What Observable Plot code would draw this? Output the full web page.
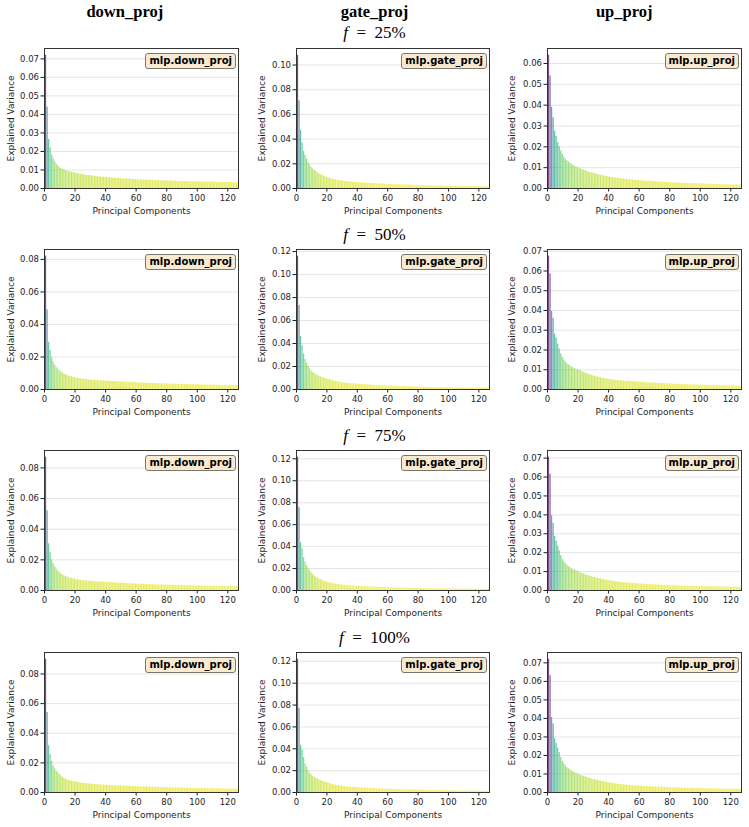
<!DOCTYPE html>
<html>
<head>
<meta charset="utf-8">
<script src="https://cdn.jsdelivr.net/npm/d3@7"></script>
<script src="https://cdn.jsdelivr.net/npm/@observablehq/plot@0.6"></script>
<style>
  body { margin: 0; background: #fff; }
  #fig { position: relative; width: 749px; height: 827px; background: #fff; overflow: hidden; }
  .panel { position: absolute; }
  .panel svg { display: block; }
  .tag {
    position: absolute;
    font: bold 10px "DejaVu Sans", sans-serif;
    line-height: 11px;
    padding: 1px 3px 2px 3px;
    background: rgba(245, 222, 179, 0.6);
    border: 1px solid #7d766b;
    border-radius: 3px;
    color: #000;
    white-space: nowrap;
  }
  #titles { position: absolute; left: 0; top: 0; }
</style>
</head>
<body>
<div id="fig"></div>
<script>
// Explained variance ratio of the first 128 principal components,
// per MLP projection and per fraction f.
const downProj25 = [
0.0720,0.0440,0.0265,0.0220,0.0180,0.0160,0.0145,0.0132,0.0122,0.0114,
0.0108,0.0104,0.0100,0.0097,0.0094,0.0092,0.0090,0.0088,0.0086,0.0084,
0.0082,0.0080,0.0078,0.0077,0.0075,0.0074,0.0072,0.0071,0.0070,0.0069,
0.0068,0.0067,0.0066,0.0065,0.0064,0.0063,0.0062,0.0061,0.0061,0.0060,
0.0059,0.0058,0.0058,0.0057,0.0056,0.0056,0.0055,0.0054,0.0054,0.0053,
0.0053,0.0052,0.0052,0.0051,0.0051,0.0050,0.0050,0.0049,0.0049,0.0048,
0.0048,0.0047,0.0047,0.0046,0.0046,0.0045,0.0045,0.0045,0.0044,0.0044,
0.0044,0.0043,0.0043,0.0043,0.0042,0.0042,0.0042,0.0041,0.0041,0.0041,
0.0040,0.0040,0.0040,0.0039,0.0039,0.0039,0.0039,0.0038,0.0038,0.0038,
0.0038,0.0037,0.0037,0.0037,0.0037,0.0036,0.0036,0.0036,0.0036,0.0036,
0.0035,0.0035,0.0035,0.0035,0.0035,0.0034,0.0034,0.0034,0.0034,0.0034,
0.0034,0.0033,0.0033,0.0033,0.0033,0.0033,0.0033,0.0032,0.0032,0.0032,
0.0032,0.0032,0.0032,0.0031,0.0031,0.0031,0.0031,0.0031];

const gateProj25 = [
0.1080,0.0710,0.0470,0.0370,0.0300,0.0270,0.0240,0.0210,0.0190,0.0170,
0.0158,0.0147,0.0137,0.0128,0.0120,0.0113,0.0107,0.0101,0.0096,0.0091,
0.0086,0.0082,0.0078,0.0075,0.0072,0.0069,0.0066,0.0064,0.0062,0.0060,
0.0059,0.0058,0.0056,0.0055,0.0054,0.0053,0.0052,0.0051,0.0050,0.0049,
0.0048,0.0047,0.0046,0.0045,0.0044,0.0043,0.0042,0.0042,0.0041,0.0040,
0.0039,0.0039,0.0038,0.0037,0.0037,0.0036,0.0035,0.0035,0.0034,0.0034,
0.0033,0.0033,0.0032,0.0032,0.0031,0.0031,0.0030,0.0030,0.0029,0.0029,
0.0028,0.0028,0.0028,0.0027,0.0027,0.0026,0.0026,0.0026,0.0025,0.0025,
0.0024,0.0024,0.0024,0.0023,0.0023,0.0023,0.0022,0.0022,0.0022,0.0021,
0.0021,0.0021,0.0021,0.0020,0.0020,0.0020,0.0020,0.0019,0.0019,0.0019,
0.0019,0.0018,0.0018,0.0018,0.0018,0.0018,0.0017,0.0017,0.0017,0.0017,
0.0017,0.0016,0.0016,0.0016,0.0016,0.0016,0.0016,0.0015,0.0015,0.0015,
0.0015,0.0015,0.0015,0.0014,0.0014,0.0014,0.0014,0.0013];

const upProj25 = [
0.0640,0.0540,0.0390,0.0340,0.0275,0.0250,0.0220,0.0200,0.0180,0.0163,
0.0150,0.0140,0.0133,0.0127,0.0121,0.0116,0.0111,0.0107,0.0103,0.0100,
0.0097,0.0094,0.0091,0.0088,0.0085,0.0082,0.0079,0.0077,0.0075,0.0073,
0.0071,0.0069,0.0067,0.0065,0.0063,0.0062,0.0060,0.0059,0.0057,0.0056,
0.0054,0.0053,0.0052,0.0051,0.0050,0.0049,0.0048,0.0047,0.0046,0.0045,
0.0044,0.0043,0.0043,0.0042,0.0041,0.0041,0.0040,0.0039,0.0039,0.0038,
0.0037,0.0037,0.0036,0.0036,0.0035,0.0035,0.0034,0.0034,0.0033,0.0033,
0.0032,0.0032,0.0031,0.0031,0.0030,0.0030,0.0030,0.0029,0.0029,0.0028,
0.0028,0.0027,0.0027,0.0027,0.0026,0.0026,0.0026,0.0025,0.0025,0.0025,
0.0024,0.0024,0.0024,0.0024,0.0023,0.0023,0.0023,0.0023,0.0022,0.0022,
0.0022,0.0022,0.0021,0.0021,0.0021,0.0021,0.0020,0.0020,0.0020,0.0020,
0.0019,0.0019,0.0019,0.0019,0.0018,0.0018,0.0018,0.0018,0.0018,0.0017,
0.0017,0.0017,0.0017,0.0017,0.0016,0.0016,0.0016,0.0016];

const downProj50 = [
0.0820,0.0490,0.0290,0.0240,0.0195,0.0170,0.0150,0.0135,0.0125,0.0116,
0.0108,0.0102,0.0096,0.0091,0.0087,0.0083,0.0080,0.0077,0.0074,0.0072,
0.0069,0.0068,0.0066,0.0065,0.0064,0.0063,0.0062,0.0061,0.0060,0.0059,
0.0058,0.0057,0.0056,0.0056,0.0055,0.0054,0.0054,0.0053,0.0053,0.0052,
0.0052,0.0051,0.0050,0.0050,0.0049,0.0049,0.0048,0.0048,0.0047,0.0047,
0.0046,0.0045,0.0045,0.0044,0.0044,0.0043,0.0043,0.0042,0.0042,0.0041,
0.0041,0.0041,0.0040,0.0040,0.0039,0.0039,0.0039,0.0038,0.0038,0.0037,
0.0037,0.0037,0.0036,0.0036,0.0036,0.0035,0.0035,0.0035,0.0035,0.0034,
0.0034,0.0034,0.0033,0.0033,0.0033,0.0032,0.0032,0.0032,0.0032,0.0031,
0.0031,0.0031,0.0031,0.0030,0.0030,0.0030,0.0030,0.0029,0.0029,0.0029,
0.0029,0.0028,0.0028,0.0028,0.0028,0.0027,0.0027,0.0027,0.0027,0.0027,
0.0026,0.0026,0.0026,0.0026,0.0026,0.0025,0.0025,0.0025,0.0025,0.0025,
0.0025,0.0024,0.0024,0.0024,0.0024,0.0024,0.0023,0.0023];

const gateProj50 = [
0.1160,0.0730,0.0460,0.0380,0.0310,0.0260,0.0230,0.0200,0.0180,0.0160,
0.0148,0.0138,0.0130,0.0123,0.0116,0.0110,0.0105,0.0100,0.0096,0.0092,
0.0088,0.0084,0.0080,0.0076,0.0073,0.0070,0.0067,0.0064,0.0062,0.0060,
0.0058,0.0056,0.0055,0.0053,0.0052,0.0051,0.0050,0.0049,0.0048,0.0047,
0.0046,0.0045,0.0044,0.0043,0.0042,0.0041,0.0040,0.0039,0.0038,0.0037,
0.0036,0.0035,0.0035,0.0034,0.0033,0.0033,0.0032,0.0031,0.0031,0.0030,
0.0030,0.0029,0.0028,0.0028,0.0027,0.0027,0.0026,0.0026,0.0025,0.0025,
0.0024,0.0024,0.0023,0.0023,0.0023,0.0022,0.0022,0.0021,0.0021,0.0021,
0.0020,0.0020,0.0020,0.0019,0.0019,0.0019,0.0018,0.0018,0.0018,0.0018,
0.0017,0.0017,0.0017,0.0017,0.0016,0.0016,0.0016,0.0016,0.0016,0.0015,
0.0015,0.0015,0.0015,0.0015,0.0014,0.0014,0.0014,0.0014,0.0014,0.0014,
0.0013,0.0013,0.0013,0.0013,0.0013,0.0013,0.0013,0.0012,0.0012,0.0012,
0.0012,0.0012,0.0012,0.0012,0.0011,0.0011,0.0011,0.0011];

const upProj50 = [
0.0675,0.0585,0.0395,0.0360,0.0280,0.0260,0.0230,0.0205,0.0180,0.0163,
0.0150,0.0140,0.0132,0.0125,0.0119,0.0114,0.0110,0.0106,0.0102,0.0099,
0.0096,0.0093,0.0089,0.0086,0.0083,0.0080,0.0077,0.0074,0.0072,0.0069,
0.0067,0.0065,0.0063,0.0061,0.0059,0.0057,0.0056,0.0054,0.0053,0.0051,
0.0050,0.0049,0.0048,0.0047,0.0046,0.0045,0.0044,0.0044,0.0043,0.0042,
0.0042,0.0041,0.0041,0.0040,0.0040,0.0039,0.0039,0.0038,0.0038,0.0037,
0.0037,0.0036,0.0036,0.0035,0.0035,0.0034,0.0034,0.0033,0.0033,0.0032,
0.0032,0.0031,0.0031,0.0030,0.0030,0.0030,0.0029,0.0029,0.0028,0.0028,
0.0028,0.0027,0.0027,0.0027,0.0026,0.0026,0.0026,0.0025,0.0025,0.0025,
0.0024,0.0024,0.0024,0.0023,0.0023,0.0023,0.0023,0.0022,0.0022,0.0022,
0.0022,0.0021,0.0021,0.0021,0.0021,0.0021,0.0020,0.0020,0.0020,0.0020,
0.0020,0.0019,0.0019,0.0019,0.0019,0.0019,0.0019,0.0018,0.0018,0.0018,
0.0018,0.0018,0.0018,0.0017,0.0017,0.0017,0.0017,0.0017];

const downProj75 = [
0.0870,0.0520,0.0305,0.0250,0.0200,0.0175,0.0155,0.0140,0.0128,0.0118,
0.0110,0.0103,0.0097,0.0092,0.0088,0.0084,0.0081,0.0078,0.0076,0.0073,
0.0071,0.0069,0.0068,0.0066,0.0065,0.0064,0.0063,0.0062,0.0061,0.0060,
0.0059,0.0058,0.0058,0.0057,0.0056,0.0056,0.0055,0.0055,0.0054,0.0054,
0.0053,0.0052,0.0052,0.0051,0.0051,0.0050,0.0049,0.0049,0.0048,0.0048,
0.0047,0.0046,0.0046,0.0045,0.0045,0.0044,0.0044,0.0043,0.0043,0.0042,
0.0042,0.0041,0.0041,0.0040,0.0040,0.0040,0.0039,0.0039,0.0038,0.0038,
0.0038,0.0037,0.0037,0.0037,0.0036,0.0036,0.0036,0.0035,0.0035,0.0035,
0.0035,0.0034,0.0034,0.0034,0.0033,0.0033,0.0033,0.0033,0.0032,0.0032,
0.0032,0.0032,0.0031,0.0031,0.0031,0.0031,0.0030,0.0030,0.0030,0.0030,
0.0030,0.0029,0.0029,0.0029,0.0029,0.0029,0.0028,0.0028,0.0028,0.0028,
0.0028,0.0027,0.0027,0.0027,0.0027,0.0027,0.0027,0.0026,0.0026,0.0026,
0.0026,0.0026,0.0026,0.0025,0.0025,0.0025,0.0025,0.0025];

const gateProj75 = [
0.1215,0.0755,0.0435,0.0380,0.0300,0.0260,0.0225,0.0200,0.0178,0.0160,
0.0145,0.0133,0.0123,0.0114,0.0106,0.0099,0.0093,0.0087,0.0082,0.0077,
0.0073,0.0069,0.0066,0.0063,0.0060,0.0058,0.0056,0.0054,0.0052,0.0050,
0.0048,0.0047,0.0046,0.0044,0.0043,0.0042,0.0041,0.0040,0.0039,0.0039,
0.0038,0.0037,0.0036,0.0036,0.0035,0.0034,0.0034,0.0033,0.0032,0.0032,
0.0031,0.0031,0.0030,0.0030,0.0029,0.0029,0.0028,0.0028,0.0027,0.0027,
0.0026,0.0026,0.0025,0.0025,0.0024,0.0024,0.0023,0.0023,0.0023,0.0022,
0.0022,0.0021,0.0021,0.0021,0.0020,0.0020,0.0020,0.0019,0.0019,0.0019,
0.0018,0.0018,0.0018,0.0018,0.0017,0.0017,0.0017,0.0017,0.0016,0.0016,
0.0016,0.0016,0.0016,0.0015,0.0015,0.0015,0.0015,0.0015,0.0015,0.0014,
0.0014,0.0014,0.0014,0.0014,0.0014,0.0013,0.0013,0.0013,0.0013,0.0013,
0.0013,0.0013,0.0012,0.0012,0.0012,0.0012,0.0012,0.0012,0.0012,0.0012,
0.0011,0.0011,0.0011,0.0011,0.0011,0.0011,0.0011,0.0010];

const upProj75 = [
0.0705,0.0615,0.0395,0.0355,0.0285,0.0260,0.0235,0.0210,0.0185,0.0165,
0.0152,0.0142,0.0134,0.0127,0.0121,0.0116,0.0112,0.0108,0.0104,0.0100,
0.0096,0.0093,0.0090,0.0087,0.0084,0.0081,0.0078,0.0076,0.0073,0.0071,
0.0069,0.0067,0.0065,0.0063,0.0061,0.0059,0.0058,0.0056,0.0055,0.0053,
0.0051,0.0050,0.0049,0.0047,0.0046,0.0045,0.0044,0.0043,0.0042,0.0041,
0.0040,0.0040,0.0039,0.0038,0.0038,0.0037,0.0036,0.0036,0.0035,0.0035,
0.0034,0.0034,0.0033,0.0033,0.0032,0.0032,0.0031,0.0031,0.0030,0.0030,
0.0029,0.0029,0.0029,0.0028,0.0028,0.0027,0.0027,0.0027,0.0026,0.0026,
0.0025,0.0025,0.0025,0.0025,0.0024,0.0024,0.0024,0.0023,0.0023,0.0023,
0.0023,0.0022,0.0022,0.0022,0.0022,0.0022,0.0021,0.0021,0.0021,0.0021,
0.0021,0.0020,0.0020,0.0020,0.0020,0.0020,0.0020,0.0019,0.0019,0.0019,
0.0019,0.0019,0.0019,0.0019,0.0018,0.0018,0.0018,0.0018,0.0018,0.0018,
0.0018,0.0017,0.0017,0.0017,0.0017,0.0017,0.0017,0.0017];

const downProj100 = [
0.0900,0.0540,0.0316,0.0255,0.0210,0.0180,0.0160,0.0145,0.0133,0.0122,
0.0112,0.0104,0.0097,0.0091,0.0086,0.0082,0.0079,0.0076,0.0074,0.0072,
0.0070,0.0068,0.0066,0.0064,0.0063,0.0061,0.0060,0.0059,0.0058,0.0057,
0.0056,0.0055,0.0054,0.0053,0.0052,0.0052,0.0051,0.0050,0.0050,0.0049,
0.0048,0.0048,0.0047,0.0047,0.0046,0.0046,0.0045,0.0045,0.0044,0.0044,
0.0043,0.0043,0.0042,0.0042,0.0042,0.0041,0.0041,0.0040,0.0040,0.0040,
0.0039,0.0039,0.0039,0.0038,0.0038,0.0038,0.0037,0.0037,0.0037,0.0036,
0.0036,0.0036,0.0035,0.0035,0.0035,0.0034,0.0034,0.0034,0.0033,0.0033,
0.0032,0.0032,0.0032,0.0032,0.0031,0.0031,0.0031,0.0030,0.0030,0.0030,
0.0030,0.0029,0.0029,0.0029,0.0029,0.0028,0.0028,0.0028,0.0028,0.0027,
0.0027,0.0027,0.0027,0.0027,0.0026,0.0026,0.0026,0.0026,0.0026,0.0025,
0.0025,0.0025,0.0025,0.0025,0.0024,0.0024,0.0024,0.0024,0.0024,0.0023,
0.0023,0.0023,0.0023,0.0023,0.0023,0.0022,0.0022,0.0022];

const gateProj100 = [
0.1220,0.0770,0.0432,0.0390,0.0320,0.0260,0.0230,0.0200,0.0178,0.0160,
0.0148,0.0138,0.0130,0.0123,0.0116,0.0110,0.0104,0.0099,0.0094,0.0090,
0.0086,0.0081,0.0077,0.0073,0.0070,0.0067,0.0064,0.0061,0.0059,0.0057,
0.0055,0.0053,0.0051,0.0050,0.0049,0.0048,0.0047,0.0046,0.0045,0.0044,
0.0043,0.0042,0.0041,0.0040,0.0039,0.0039,0.0038,0.0037,0.0036,0.0036,
0.0035,0.0034,0.0034,0.0033,0.0033,0.0032,0.0032,0.0031,0.0031,0.0030,
0.0030,0.0029,0.0029,0.0028,0.0028,0.0027,0.0027,0.0026,0.0026,0.0025,
0.0025,0.0025,0.0024,0.0024,0.0023,0.0023,0.0023,0.0022,0.0022,0.0022,
0.0021,0.0021,0.0020,0.0020,0.0020,0.0019,0.0019,0.0019,0.0018,0.0018,
0.0018,0.0017,0.0017,0.0017,0.0017,0.0016,0.0016,0.0016,0.0016,0.0015,
0.0015,0.0015,0.0015,0.0015,0.0014,0.0014,0.0014,0.0014,0.0014,0.0013,
0.0013,0.0013,0.0013,0.0013,0.0013,0.0012,0.0012,0.0012,0.0012,0.0012,
0.0012,0.0012,0.0011,0.0011,0.0011,0.0011,0.0011,0.0011];

const upProj100 = [
0.0720,0.0630,0.0405,0.0370,0.0290,0.0265,0.0240,0.0215,0.0190,0.0168,
0.0155,0.0144,0.0135,0.0128,0.0122,0.0117,0.0112,0.0108,0.0104,0.0100,
0.0096,0.0093,0.0090,0.0087,0.0084,0.0081,0.0078,0.0076,0.0073,0.0071,
0.0069,0.0067,0.0065,0.0063,0.0061,0.0059,0.0058,0.0056,0.0055,0.0053,
0.0051,0.0050,0.0049,0.0047,0.0046,0.0045,0.0044,0.0043,0.0042,0.0041,
0.0040,0.0040,0.0039,0.0038,0.0038,0.0037,0.0036,0.0036,0.0035,0.0035,
0.0034,0.0034,0.0033,0.0033,0.0032,0.0032,0.0031,0.0031,0.0030,0.0030,
0.0029,0.0029,0.0029,0.0028,0.0028,0.0027,0.0027,0.0027,0.0026,0.0026,
0.0025,0.0025,0.0025,0.0025,0.0024,0.0024,0.0024,0.0023,0.0023,0.0023,
0.0023,0.0022,0.0022,0.0022,0.0022,0.0022,0.0021,0.0021,0.0021,0.0021,
0.0021,0.0020,0.0020,0.0020,0.0020,0.0020,0.0020,0.0019,0.0019,0.0019,
0.0019,0.0019,0.0019,0.0019,0.0018,0.0018,0.0018,0.0018,0.0018,0.0018,
0.0018,0.0017,0.0017,0.0017,0.0017,0.0017,0.0017,0.0017];

// Column headers, row fractions, legend tags and tick settings
const projections = ["down_proj", "gate_proj", "up_proj"];
const tags = ["mlp.down_proj", "mlp.gate_proj", "mlp.up_proj"];
const fractions = ["25%", "50%", "75%", "100%"];
const xTicks = [0, 20, 40, 60, 80, 100, 120];
// y tick step for each projection, one entry per fraction row
const yStepDown = [0.01, 0.02, 0.02, 0.02];
const yStepGate = [0.02, 0.02, 0.02, 0.02];
const yStepUp = [0.01, 0.01, 0.01, 0.01];

const grid = [
  [downProj25, gateProj25, upProj25],
  [downProj50, gateProj50, upProj50],
  [downProj75, gateProj75, upProj75],
  [downProj100, gateProj100, upProj100]
];
const yStepsByColumn = [yStepDown, yStepGate, yStepUp];

// Layout of the 4 x 3 panel grid
const COL_LEFT = [0, 250, 500];
const COL_W = [250, 250, 249];
const M_LEFT = [44, 46, 47];
const M_RIGHT = [12, 11, 8];
const FRAME_TOP = [48, 249, 450, 652];
const M_TOP = 6, FRAME_H = 140, M_BOTTOM = 34;
const YLABEL_DX = [-33.5, -34, -35];

const fig = document.getElementById("fig");
const fmt2 = d3.format(".2f");

grid.forEach((row, r) => {
  row.forEach((values, c) => {
    // components are numbered from 1
    const data = values.map((v, i) => ({pc: i + 1, v}));
    const vmax = d3.max(values);
    const yTop = vmax * 1.05;
    const step = yStepsByColumn[c][r];
    const yTicks = d3.range(0, Math.floor(yTop / step + 1e-6) + 1).map(k => +(k * step).toFixed(4));

    const chart = Plot.plot({
      width: COL_W[c],
      height: M_TOP + FRAME_H + M_BOTTOM,
      marginLeft: M_LEFT[c],
      marginRight: M_RIGHT[c],
      marginTop: M_TOP,
      marginBottom: M_BOTTOM,
      x: {domain: [0, 127]},
      y: {domain: [0, yTop]},
      color: {type: "linear", scheme: "viridis", reverse: true, domain: [0, vmax]},
      style: {fontFamily: "DejaVu Sans", fontSize: "8.5px", color: "#1e1e1e", background: "#fff", overflow: "visible"},
      marks: [
        Plot.gridY(yTicks, {stroke: "#dedede", strokeOpacity: 1, strokeWidth: 0.8}),
        Plot.rect(data, {
          x1: d => d.pc - 0.4,
          x2: d => d.pc + 0.4,
          y1: 0,
          y2: "v",
          fill: "v",
          fillOpacity: 0.7,
          clip: true
        }),
        Plot.axisY({ticks: yTicks, tickFormat: fmt2, tickSize: 3.5, tickPadding: 2, label: null}),
        Plot.axisX({ticks: xTicks, tickFormat: d3.format("d"), tickSize: 3.5, tickPadding: 3, label: null}),
        Plot.frame({stroke: "#333", strokeWidth: 1}),
        Plot.text(["Principal Components"], {
          frameAnchor: "bottom", dy: 23, lineAnchor: "middle", textAnchor: "middle",
          fontSize: 9, fill: "#1e1e1e"
        }),
        Plot.text(["Explained Variance"], {
          frameAnchor: "left", dx: YLABEL_DX[c], rotate: -90, textAnchor: "middle", lineAnchor: "middle",
          fontSize: 9, fill: "#1e1e1e"
        })
      ]
    });

    const panel = document.createElement("div");
    panel.className = "panel";
    panel.style.left = COL_LEFT[c] + "px";
    panel.style.top = (FRAME_TOP[r] - M_TOP) + "px";
    panel.appendChild(chart);

    const tag = document.createElement("div");
    tag.className = "tag";
    tag.textContent = tags[c];
    tag.style.right = (M_RIGHT[c] + 2) + "px";
    tag.style.top = (M_TOP + 5) + "px";
    panel.appendChild(tag);

    fig.appendChild(panel);
  });
});

// Column headers and the fraction label above each row
const svg = d3.select(fig).append("svg")
  .attr("id", "titles")
  .attr("width", 749)
  .attr("height", 827);

const COL_CENTER = [124.8, 374.5, 624.2];
svg.selectAll("text.col")
  .data(projections)
  .join("text")
  .attr("class", "col")
  .attr("x", (d, i) => COL_CENTER[i])
  .attr("y", 17)
  .attr("text-anchor", "middle")
  .attr("font-family", "Liberation Serif, serif")
  .attr("font-weight", "bold")
  .attr("font-size", 16.5)
  .attr("fill", "#000")
  .text(d => d);

const ROW_BASELINE = [37.5, 240, 440.5, 643];
const rowTitles = svg.selectAll("text.row")
  .data(fractions)
  .join("text")
  .attr("class", "row")
  .attr("x", COL_CENTER[1])
  .attr("y", (d, i) => ROW_BASELINE[i])
  .attr("text-anchor", "middle")
  .attr("font-family", "Liberation Serif, serif")
  .attr("font-size", 17)
  .attr("fill", "#000");
rowTitles.append("tspan").attr("font-style", "italic").text("f");
rowTitles.append("tspan").text(d => "\u2002=\u2002" + d);
</script>
</body>
</html>
